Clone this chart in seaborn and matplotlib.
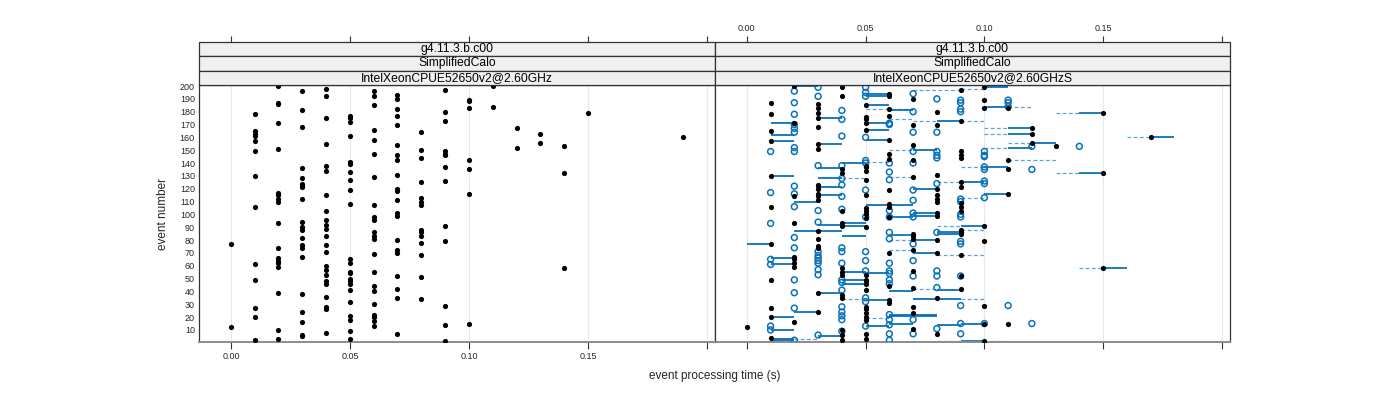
import matplotlib
matplotlib.use("Agg")
import matplotlib.pyplot as plt
import pandas as pd
import seaborn as sns
from matplotlib.patches import Rectangle

sns.set_style("white")
plt.rcParams['font.family'] = ['Liberation Sans', 'DejaVu Sans']

# ---------------- data ----------------
times = [0.00, 0.01, 0.02, 0.03, 0.04, 0.05, 0.06, 0.07, 0.08, 0.09,
         0.10, 0.11, 0.12, 0.13, 0.14, 0.15, 0.16, 0.17, 0.18, 0.19]

# left panel: event numbers at each processing time
left_events = [
    [77, 12],
    [178, 165, 163, 161, 157, 149, 130, 106, 61, 49, 27, 20, 2],
    [200, 187, 186, 171, 151, 117, 115, 112, 110, 93, 74, 66, 64, 62, 59, 39, 10, 3],
    [196, 181, 168, 136, 128, 124, 122, 121, 112, 94, 90, 88, 82, 76, 74, 67, 38, 24, 16, 6, 5],
    [198, 192, 175, 155, 138, 134, 115, 103, 96, 92, 89, 83, 76, 71, 60, 57, 53, 48, 46, 36, 28, 26, 8],
    [177, 175, 172, 161, 141, 139, 133, 127, 119, 108, 65, 62, 55, 54, 50, 48, 46, 41, 32, 21, 18, 9, 3],
    [196, 192, 185, 166, 158, 147, 129, 107, 98, 96, 86, 83, 81, 69, 55, 44, 40, 30, 22, 20, 17, 13],
    [193, 190, 182, 177, 170, 154, 146, 142, 131, 120, 118, 111, 101, 99, 80, 72, 70, 52, 42, 35, 7],
    [164, 150, 144, 125, 113, 110, 107, 88, 86, 83, 78, 68, 51, 34],
    [197, 180, 173, 149, 147, 146, 137, 126, 91, 79, 29, 14, 1],
    [189, 188, 183, 142, 135, 116, 15],
    [200, 184],
    [167, 152],
    [163, 156],
    [153, 132, 58],
    [179],
    [],
    [],
    [],
    [160],
]

# right panel: black points (this run)
right_black = [
    [12],
    [187, 178, 165, 157, 130, 106, 77, 49, 27, 20, 4],
    [200, 171, 114, 93, 67, 65, 62, 59, 16],
    [186, 183, 179, 175, 168, 155, 151, 123, 122, 120, 116, 114, 111, 87, 81, 75, 74, 39, 24],
    [199, 192, 135, 132, 103, 93, 91, 58, 55, 53, 37, 35, 10, 6, 2],
    [185, 176, 174, 171, 166, 138, 137, 134, 127, 115, 105, 103, 100, 97, 90, 53, 49, 48, 46, 41, 28, 26, 23, 20, 18, 7, 3],
    [194, 192, 182, 177, 158, 147, 143, 119, 108, 106, 98, 70, 44, 33, 31],
    [190, 170, 154, 142, 129, 85, 83, 81, 72, 56, 43, 28, 23, 11],
    [180, 170, 131, 120, 115, 112, 110, 101, 99, 80, 70, 35, 7],
    [197, 173, 149, 146, 144, 125, 121, 109, 106, 103, 88, 86, 85, 68, 52, 42],
    [199, 189, 183, 91, 79, 29, 15, 1],
    [183, 142, 135, 116, 15],
    [167, 163, 156],
    [153],
    [],
    [179, 132, 58],
    [],
    [160],
    [],
    [],
]

# right panel: open blue circles (reference runs)
right_circles = [
    [],
    [149, 117, 93, 65, 61, 13, 10],
    [196, 187, 178, 170, 167, 164, 152, 149, 122, 116, 106, 82, 74, 49, 39, 27, 2],
    [199, 192, 138, 103, 94, 71, 68, 66, 64, 62, 57, 53, 6],
    [181, 174, 161, 138, 128, 123, 114, 104, 74, 71, 62, 49, 47, 41, 28, 24, 21, 18, 9],
    [199, 195, 192, 160, 142, 140, 119, 98, 71, 64, 56, 35, 32, 13],
    [171, 170, 140, 133, 127, 103, 98, 86, 81, 62, 56, 54, 49, 46, 22, 18, 14, 7, 2],
    [194, 180, 164, 149, 140, 119, 111, 101, 98, 77, 64, 52, 18, 7],
    [190, 164, 149, 146, 144, 124, 86, 56, 52, 43, 11],
    [189, 187, 182, 180, 112, 110, 100, 98, 79, 77, 52, 29, 15, 7],
    [149, 146, 145, 137, 135, 126, 124, 113, 15],
    [189, 187, 184, 29],
    [153, 135, 15],
    [],
    [153],
    [],
    [],
    [],
    [],
    [],
]

# right panel: solid range segments (event, from, to)
solid_segments = [
    (200, .02, .03), (194, .05, .06), (192, .05, .06), (185, .05, .06), (181, .06, .07),
    (175, .03, .04), (171, .01, .02), (171, .05, .06), (173, .08, .09), (166, .05, .06),
    (162, .01, .02), (158, .05, .06), (157, .01, .02), (155, .03, .04), (150, .07, .08),
    (140, .04, .05), (136, .03, .04), (130, .01, .02), (128, .03, .04), (121, .03, .04),
    (120, .07, .08), (115, .03, .04), (110, .02, .03), (107, .05, .07), (101, .07, .08),
    (99, .07, .08), (98, .06, .07), (93, .04, .05), (92, .03, .04), (91, .04, .05),
    (87, .02, .04), (86, .08, .09), (85, .08, .09), (83, .04, .05), (84, .06, .07),
    (80, .07, .08), (77, .00, .01), (70, .07, .08), (66, .01, .02), (61, .01, .02),
    (55, .04, .05), (54, .05, .06), (49, .04, .05), (46, .04, .05), (40, .06, .07),
    (41, .08, .09), (39, .03, .04), (34, .07, .09), (33, .05, .06), (24, .02, .03),
    (22, .06, .08), (21, .06, .08), (20, .01, .02), (14, .08, .09), (15, .06, .07),
    (13, .05, .06), (10, .01, .02), (5, .03, .04), (3, .01, .02), (2, .01, .02),
    (199, .10, .11), (184, .10, .11), (179, .14, .15), (167, .11, .12), (163, .11, .12),
    (160, .17, .18), (156, .12, .13), (152, .11, .12), (137, .10, .11), (132, .14, .15),
    (125, .09, .10), (116, .10, .11), (91, .09, .10), (15, .09, .10), (1, .09, .10),
    (58, .15, .16),
]

# right panel: dashed range segments (event, from, to)
dashed_segments = [
    (197, .07, .09), (182, .05, .07), (174, .06, .07), (173, .07, .08), (150, .06, .07),
    (141, .05, .06), (137, .09, .10), (128, .04, .05), (129, .06, .07), (125, .08, .09),
    (91, .08, .09), (80, .06, .07), (72, .06, .07), (68, .08, .09), (42, .07, .08),
    (34, .04, .05), (19, .05, .06), (3, .02, .03), (1, .08, .09),
    (198, .09, .10), (184, .11, .12), (179, .13, .14), (173, .09, .10), (167, .10, .11),
    (163, .10, .11), (160, .16, .17), (156, .11, .12), (152, .10, .11), (142, .11, .13),
    (132, .13, .14), (113, .09, .10), (88, .09, .10), (68, .09, .10), (34, .09, .10),
    (1, .10, .11), (58, .14, .15),
]

y_ticks = [10, 20, 30, 40, 50, 60, 70, 80, 90, 100, 110, 120, 130, 140, 150, 160, 170, 180, 190, 200]
x_ticks = [0.00, 0.05, 0.10, 0.15, 0.20]
x_ticklabels = ["0.00", "0.05", "0.10", "0.15", ""]
strip_rows = ["g4.11.3.b.c00", "SimplifiedCalo"]
panel_names = ["IntelXeonCPUE52650v2@2.60GHz", "IntelXeonCPUE52650v2@2.60GHzS"]
x_label = "event processing time (s)"
y_label = "event number"


def to_frame(per_time):
    rows = [(t, e) for t, evs in zip(times, per_time) for e in evs]
    return pd.DataFrame(rows, columns=["time", "event"])


df_left = to_frame(left_events)
df_rblack = to_frame(right_black)
df_rcirc = to_frame(right_circles)
df_solid = pd.DataFrame(solid_segments, columns=["event", "t0", "t1"])
df_dash = pd.DataFrame(dashed_segments, columns=["event", "t0", "t1"])

# ---------------- layout ----------------
W, H = 1400, 400
fig = plt.figure(figsize=(14, 4), dpi=100)

def fx(px):
    return px / W

def fy(py):
    return 1 - py / H

panel_px = [(199, 715), (715, 1230)]
top_px, bot_px = 85, 342
strip_top = 42
strip_h = 14.33
xlim = (-0.0134, 0.2034)
ylim = (0.6, 200.8)
frame_col = "#333333"
blue = "#0a72ba"
blue_light = "#5ea3d3"

axes = []
for i, (x0, x1) in enumerate(panel_px):
    ax = fig.add_axes([fx(x0), fy(bot_px), fx(x1 - x0), (bot_px - top_px) / H])
    ax.set_xlim(*xlim)
    ax.set_ylim(*ylim)
    ax.set_xticks(x_ticks)
    for xv in x_ticks:
        ax.axvline(xv, color="#e8e8e8", lw=0.8, zorder=0)
    for s in ax.spines.values():
        s.set_color(frame_col)
        s.set_linewidth(0.9)
    ax.spines["bottom"].set_color("#8c8c8c")
    ax.spines["bottom"].set_linewidth(1.4)
    ax.tick_params(axis="x", direction="out", length=5, width=0.8, color=frame_col,
                   labelsize=6.5, pad=2.5, bottom=True)
    if i == 0:
        ax.set_xticklabels(x_ticklabels)
        ax.set_yticks(y_ticks)
        ax.set_yticklabels([str(v) for v in y_ticks])
        ax.tick_params(axis="y", direction="out", length=0, labelsize=6.5, pad=3, left=True)
    else:
        ax.set_xticklabels([""] * len(x_ticks))
        ax.set_yticks([])
    ax.set_xlabel("")
    ax.set_ylabel("")
    axes.append(ax)

    # top ticks above the strips
    axt = fig.add_axes([fx(x0), fy(strip_top), fx(x1 - x0), 0.0005])
    axt.set_xlim(*xlim)
    axt.patch.set_visible(False)
    for s in axt.spines.values():
        s.set_visible(False)
    axt.set_yticks([])
    axt.xaxis.tick_top()
    axt.set_xticks(x_ticks)
    axt.set_xticklabels(x_ticklabels if i == 1 else [""] * len(x_ticks))
    axt.tick_params(axis="x", direction="out", length=4, width=0.8, color=frame_col,
                    labelsize=6.5, pad=2.5)

    # strips
    labels = strip_rows + [panel_names[i]]
    for k, lab in enumerate(labels):
        yt = strip_top + k * strip_h
        fig.patches.append(Rectangle((fx(x0), fy(yt + strip_h)), fx(x1 - x0), strip_h / H,
                                     transform=fig.transFigure, facecolor="#f0f0f0",
                                     edgecolor=frame_col, linewidth=0.9, zorder=1))
        fig.text(fx((x0 + x1) / 2), fy(yt + strip_h / 2), lab, ha="center", va="center",
                 fontsize=8.7, color="black", zorder=2)

# ---------------- marks ----------------
ax_l, ax_r = axes
sns.scatterplot(data=df_left, x="time", y="event", ax=ax_l, color="black", s=14,
                linewidth=0, legend=False, zorder=3)

ax_r.hlines(df_dash["event"], df_dash["t0"], df_dash["t1"], colors=blue_light,
            linewidth=0.9, linestyles=(0, (3, 2)), zorder=2)
ax_r.hlines(df_solid["event"], df_solid["t0"], df_solid["t1"], colors=blue,
            linewidth=1.3, zorder=2)
sns.scatterplot(data=df_rcirc, x="time", y="event", ax=ax_r, marker="o", s=18,
                facecolors="none", edgecolor=blue, linewidth=1.1, legend=False, zorder=3)
sns.scatterplot(data=df_rblack, x="time", y="event", ax=ax_r, color="black", s=14,
                linewidth=0, legend=False, zorder=4)
for ax in axes:
    ax.set_xlabel("")
    ax.set_ylabel("")

fig.text(fx(715), fy(376), x_label, ha="center", va="center", fontsize=8.5)
fig.text(fx(163), fy(214), y_label, ha="center", va="center", rotation=90, fontsize=8.5)

fig.savefig("out.png", dpi=100)
